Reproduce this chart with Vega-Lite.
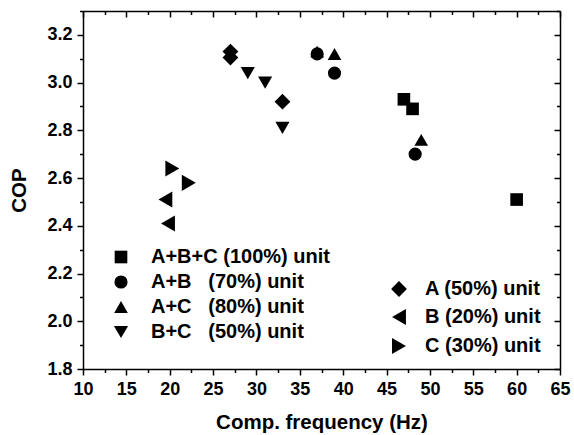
{
  "$schema": "https://vega.github.io/schema/vega-lite/v6.json",
  "width": 477,
  "height": 358,
  "autosize": {"type": "none"},
  "padding": {"left": 83, "top": 11, "right": 14, "bottom": 66},
  "background": "white",
  "config": {
    "view": {"stroke": null},
    "font": "Liberation Sans",
    "axis": {
      "grid": false,
      "domainColor": "black",
      "domainWidth": 1.5,
      "tickColor": "black",
      "tickWidth": 1.5,
      "labelFont": "Liberation Sans",
      "labelFontWeight": "bold",
      "labelFontSize": 18,
      "labelColor": "black",
      "labelOverlap": false,
      "labelFlush": false,
      "titleFont": "Liberation Sans",
      "titleFontWeight": "bold",
      "titleFontSize": 20.5,
      "titleColor": "black"
    },
    "legend": {
      "labelFont": "Liberation Sans",
      "labelFontWeight": "bold",
      "labelFontSize": 20,
      "labelColor": "black",
      "labelLimit": 400,
      "padding": 0,
      "rowPadding": 5,
      "labelOffset": 20
    }
  },
  "data": {
    "values": [
      {"x": 47, "y": 2.93, "series": "A+B+C (100%) unit"},
      {"x": 48, "y": 2.89, "series": "A+B+C (100%) unit"},
      {"x": 60, "y": 2.51, "series": "A+B+C (100%) unit"},
      {"x": 37, "y": 3.12, "series": "A+B (70%) unit"},
      {"x": 39, "y": 3.04, "series": "A+B (70%) unit"},
      {"x": 48.3, "y": 2.70, "series": "A+B (70%) unit"},
      {"x": 37, "y": 3.13, "series": "A+C (80%) unit"},
      {"x": 39, "y": 3.12, "series": "A+C (80%) unit"},
      {"x": 49, "y": 2.76, "series": "A+C (80%) unit"},
      {"x": 29, "y": 3.04, "series": "B+C (50%) unit"},
      {"x": 31, "y": 3.0, "series": "B+C (50%) unit"},
      {"x": 33, "y": 2.81, "series": "B+C (50%) unit"},
      {"x": 27, "y": 3.13, "series": "A (50%) unit"},
      {"x": 27, "y": 3.105, "series": "A (50%) unit"},
      {"x": 33, "y": 2.92, "series": "A (50%) unit"},
      {"x": 19.5, "y": 2.51, "series": "B (20%) unit"},
      {"x": 19.8, "y": 2.41, "series": "B (20%) unit"},
      {"x": 20.3, "y": 2.64, "series": "C (30%) unit"},
      {"x": 22.2, "y": 2.58, "series": "C (30%) unit"}
    ]
  },
  "layer": [
    {
      "transform": [{"filter": {"field": "series", "oneOf": ["A+B+C (100%) unit", "A+B (70%) unit", "A+C (80%) unit", "B+C (50%) unit"]}}],
      "mark": {"type": "point", "filled": true, "color": "black", "opacity": 1},
      "encoding": {
        "x": {
          "field": "x", "type": "quantitative",
          "scale": {"domain": [10, 65], "nice": false, "zero": false},
          "axis": {
            "orient": "bottom",
            "values": [10, 12.5, 15, 17.5, 20, 22.5, 25, 27.5, 30, 32.5, 35, 37.5, 40, 42.5, 45, 47.5, 50, 52.5, 55, 57.5, 60, 62.5, 65],
            "labelExpr": "datum.value % 5 === 0 ? datum.label : ''",
            "tickSize": {"condition": {"test": "datum.value % 5 === 0", "value": 6}, "value": 3.5},
            "labelPadding": 5,
            "title": "Comp. frequency (Hz)",
            "titlePadding": 14
          }
        },
        "y": {
          "field": "y", "type": "quantitative",
          "scale": {"domain": [1.8, 3.3], "nice": false, "zero": false},
          "axis": {
            "orient": "left",
            "values": [1.8, 1.9, 2.0, 2.1, 2.2, 2.3, 2.4, 2.5, 2.6, 2.7, 2.8, 2.9, 3.0, 3.1, 3.2, 3.3],
            "labelExpr": "round(datum.value * 10) % 2 === 0 ? format(datum.value, '.1f') : ''",
            "tickSize": {"condition": {"test": "round(datum.value * 10) % 2 === 0", "value": 6}, "value": 3.5},
            "labelPadding": 5,
            "title": "COP",
            "titlePadding": 17
          }
        },
        "shape": {
          "field": "series", "type": "nominal",
          "scale": {
            "domain": ["A+B+C (100%) unit", "A+B (70%) unit", "A+C (80%) unit", "B+C (50%) unit"],
            "range": ["square", "circle", "triangle-up", "triangle-down"]
          },
          "legend": {
            "title": null,
            "orient": "none",
            "legendX": 28,
            "legendY": 236,
            "labelOffset": 20,
            "labelExpr": "datum.label === 'A+B+C (100%) unit' ? datum.label : '\u00a0' + replace(datum.label, ' (', '\u00a0\u00a0\u00a0(')"
          }
        },
        "size": {
          "field": "series", "type": "nominal",
          "scale": {
            "domain": ["A+B+C (100%) unit", "A+B (70%) unit", "A+C (80%) unit", "B+C (50%) unit"],
            "range": [160, 200, 270, 270]
          }
        }
      }
    },
    {
      "transform": [{"filter": {"field": "series", "oneOf": ["A (50%) unit", "B (20%) unit", "C (30%) unit"]}}],
      "mark": {"type": "point", "filled": true, "color": "black", "opacity": 1},
      "encoding": {
        "x": {
          "field": "x", "type": "quantitative",
          "scale": {"domain": [10, 65], "nice": false, "zero": false},
          "axis": {
            "orient": "top",
            "values": [10, 12.5, 15, 17.5, 20, 22.5, 25, 27.5, 30, 32.5, 35, 37.5, 40, 42.5, 45, 47.5, 50, 52.5, 55, 57.5, 60, 62.5, 65],
            "labels": false,
            "tickSize": {"condition": {"test": "datum.value % 5 === 0", "value": -6}, "value": -3.5},
            "title": null
          }
        },
        "y": {
          "field": "y", "type": "quantitative",
          "scale": {"domain": [1.8, 3.3], "nice": false, "zero": false},
          "axis": {
            "orient": "right",
            "values": [1.8, 1.9, 2.0, 2.1, 2.2, 2.3, 2.4, 2.5, 2.6, 2.7, 2.8, 2.9, 3.0, 3.1, 3.2, 3.3],
            "labels": false,
            "tickSize": {"condition": {"test": "round(datum.value * 10) % 2 === 0", "value": -6}, "value": -3.5},
            "title": null
          }
        },
        "shape": {
          "field": "series", "type": "nominal",
          "scale": {
            "domain": ["A (50%) unit", "B (20%) unit", "C (30%) unit"],
            "range": ["diamond", "triangle-left", "triangle-right"]
          },
          "legend": {
            "title": null,
            "orient": "none",
            "legendX": 306,
            "legendY": 268,
            "rowPadding": 6,
            "labelOffset": 16
          }
        },
        "size": {
          "field": "series", "type": "nominal",
          "scale": {
            "domain": ["A (50%) unit", "B (20%) unit", "C (30%) unit"],
            "range": [250, 260, 260]
          }
        }
      }
    }
  ],
  "resolve": {
    "scale": {"shape": "independent", "size": "independent"},
    "axis": {"x": "independent", "y": "independent"}
  }
}
